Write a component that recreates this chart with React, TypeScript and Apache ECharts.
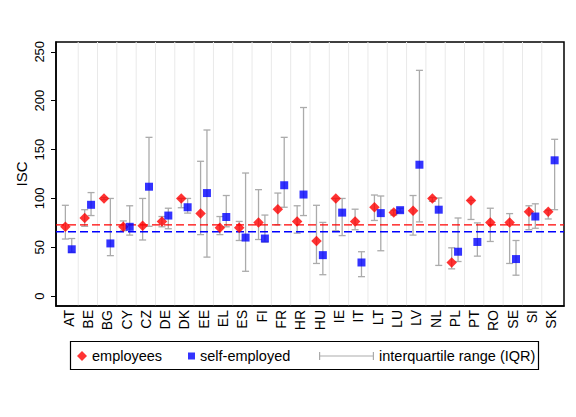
import React, { useEffect, useRef } from "react";
import * as echarts from "echarts";

const countries = ["AT","BE","BG","CY","CZ","DE","DK","EE","EL","ES","FI","FR","HR","HU","IE","IT","LT","LU","LV","NL","PL","PT","RO","SE","SI","SK"];

const employees = [71, 80, 100, 71, 72, 76.5, 100, 84.5, 70, 70, 75.5, 89, 76.5, 56.5, 100, 76.5, 91, 85.5, 87.5, 100, 34.5, 98, 75.5, 75.5, 86.5, 86.5];
const employeesLow = [58.5, 71.5, 99, 67, 57.5, 71, 90.5, 63, 63, 57, 58, 73, 64.5, 33.5, 67, 68, 77.5, 83, 62.5, 97, 28, 78.5, 56, 33.5, 68, 79];
const employeesHigh = [93, 88.5, 101, 77, 100, 81.5, 100, 138, 81.5, 76.5, 109, 105.5, 92.5, 93, 100, 89, 103.5, 88, 103, 101, 49.5, 98, 90, 84.5, 92.5, 88];

const selfEmployed = [48, 93.5, 54, 71, 112, 82.5, 91, 105.5, 81, 60, 59, 113.5, 104, 42, 85.5, 34.5, 85, 88, 134.5, 88.5, 45.5, 55.5, null, 38, 81.5, 139];
const selfLow = [45, 82.5, 41.5, 62.5, 71.5, 69, 85, 40, 71, 25.5, 55.5, 91, 82.5, 22, 62, 20, 46.5, 86, 76, 31.5, 35.5, 41, null, 21.5, 69.5, 88.5];
const selfHigh = [59, 106, 100, 92.5, 162.5, 90, 100, 170, 103, 126, 83, 162.5, 193, 75.5, 100, 45.5, 102.5, 90, 231, 100.5, 80, 75, null, 57, 94.5, 160.5];

const employeesMedianLine = 73;
const selfMedianLine = 66;

const yTicks = [0, 50, 100, 150, 200, 250];

const FONT = "Liberation Sans, Arial, Helvetica, sans-serif";
const RED = "#ff0000";
const BLUE = "#0000ff";
const GREY = "#ababab";
const EMP_OFF = -0.165;
const SELF_OFF = 0.165;

function errorBarRender(params: any, api: any) {
  const x = api.value(0);
  const lo = api.value(1);
  const hi = api.value(2);
  if (isNaN(lo) || isNaN(hi)) return null;
  const pLo = api.coord([x, lo]);
  const pHi = api.coord([x, hi]);
  const cap = 3.5;
  const style = { stroke: GREY, lineWidth: 1.3 };
  return {
    type: "group",
    children: [
      { type: "line", shape: { x1: pLo[0], y1: pLo[1], x2: pHi[0], y2: pHi[1] }, style },
      { type: "line", shape: { x1: pLo[0] - cap, y1: pLo[1], x2: pLo[0] + cap, y2: pLo[1] }, style },
      { type: "line", shape: { x1: pHi[0] - cap, y1: pHi[1], x2: pHi[0] + cap, y2: pHi[1] }, style },
    ],
  };
}

export default function App() {
  const ref = useRef<HTMLDivElement>(null);
  useEffect(() => {
    if (!ref.current) return;
    const chart = echarts.init(ref.current, null, { renderer: "svg" });
    const boundaries = countries.slice(1).map((_, i) => i + 0.5);

    const option: any = {
      animation: false,
      backgroundColor: "#fff",
      textStyle: { fontFamily: FONT },
      grid: { left: 56, right: 12, top: 42, bottom: 111, show: true, borderColor: "#000", borderWidth: 1.5, backgroundColor: "transparent" },
      xAxis: {
        type: "value",
        min: -0.65,
        max: 25.65,
        axisLine: { show: true, onZero: false, lineStyle: { color: "#000", width: 1.5 } },
        axisTick: { show: false },
        splitLine: { show: false },
        axisLabel: {
          customValues: countries.map((_, i) => i),
          formatter: (v: number) => countries[Math.round(v)] ?? "",
          rotate: 90,
          margin: 4,
          fontSize: 14,
          color: "#000",
          fontFamily: FONT,
        },
      },
      yAxis: {
        type: "value",
        min: -10,
        max: 260,
        name: "ISC",
        nameLocation: "middle",
        nameRotate: 90,
        nameGap: 27,
        nameMoveOverlap: false,
        nameTextStyle: { fontSize: 15, color: "#000", fontFamily: FONT },
        axisLine: { show: true, onZero: false, lineStyle: { color: "#000", width: 1.5 } },
        axisTick: { show: true, length: 5, customValues: yTicks, lineStyle: { color: "#000", width: 1 } },
        splitLine: { show: false },
        axisLabel: { customValues: yTicks, rotate: 90, margin: 10, fontSize: 13, color: "#000", fontFamily: FONT },
      },
      legend: [
        {
          left: 77, top: 348, padding: 0, selectedMode: false,
          itemWidth: 10, itemHeight: 10, icon: "diamond",
          data: ["employees"],
          textStyle: { fontSize: 14.5, color: "#000", fontFamily: FONT, lineHeight: 16 },
        },
        {
          left: 188, top: 348, padding: 0, selectedMode: false,
          itemWidth: 7, itemHeight: 7, icon: "rect",
          data: ["self-employed"],
          textStyle: { fontSize: 14.5, color: "#000", fontFamily: FONT, lineHeight: 16 },
        },
        {
          left: 319, top: 348, padding: 0, selectedMode: false,
          itemWidth: 55, itemHeight: 8,
          data: [{ name: "interquartile range (IQR)", icon: "path://M0,0H1.2V3.4H53.8V0H55V8H53.8V4.6H1.2V8H0Z" }],
          textStyle: { fontSize: 14.5, color: "#000", fontFamily: FONT, lineHeight: 16 },
        },
      ],
      graphic: [
        { type: "rect", shape: { x: 70.5, y: 341.5, width: 468, height: 28 }, style: { fill: "none", stroke: "#000", lineWidth: 1.2 }, silent: true },
      ],
      series: [
        {
          name: "gridlines",
          type: "custom",
          z: 0,
          silent: true,
          data: boundaries.map((b) => [b]),
          renderItem: (params: any, api: any) => {
            const cs = params.coordSys;
            const p = api.coord([api.value(0), 0]);
            return { type: "line", shape: { x1: p[0], y1: cs.y, x2: p[0], y2: cs.y + cs.height }, style: { stroke: "#e9e9e9", lineWidth: 1 } };
          },
        },
        {
          name: "interquartile range (IQR)",
          type: "custom",
          z: 1,
          itemStyle: { color: GREY },
          data: countries.map((_, i) => [i + EMP_OFF, employeesLow[i], employeesHigh[i]]),
          renderItem: errorBarRender,
        },
        {
          name: "IQR self-employed",
          type: "custom",
          z: 1,
          itemStyle: { color: GREY },
          data: countries.map((_, i) => [i + SELF_OFF, selfLow[i] ?? "-", selfHigh[i] ?? "-"]),
          renderItem: errorBarRender,
        },
        {
          name: "medians",
          type: "custom",
          z: 2,
          silent: true,
          data: [[employeesMedianLine, 0], [selfMedianLine, 1]],
          renderItem: (params: any, api: any) => {
            const cs = params.coordSys;
            const p = api.coord([0, api.value(0)]);
            const color = api.value(1) === 0 ? RED : BLUE;
            return { type: "line", shape: { x1: cs.x, y1: p[1], x2: cs.x + cs.width, y2: p[1] }, style: { stroke: color, lineWidth: 1.4, lineDash: [8, 4] } };
          },
          encode: { x: -1, y: 0 },
        },
        {
          name: "employees",
          type: "scatter",
          z: 5,
          symbol: "diamond",
          symbolSize: 10.5,
          itemStyle: { color: RED },
          data: countries.map((_, i) => [i + EMP_OFF, employees[i]]),
        },
        {
          name: "self-employed",
          type: "scatter",
          z: 5,
          symbol: "rect",
          symbolSize: 8,
          itemStyle: { color: BLUE },
          data: countries.map((_, i) => [i + SELF_OFF, selfEmployed[i] ?? "-"]),
        },
      ],
    };
    chart.setOption(option);
    return () => chart.dispose();
  }, []);
  return <div ref={ref} style={{ position: "fixed", left: 0, top: 0, width: 576, height: 417, background: "#fff" }} />;
}
